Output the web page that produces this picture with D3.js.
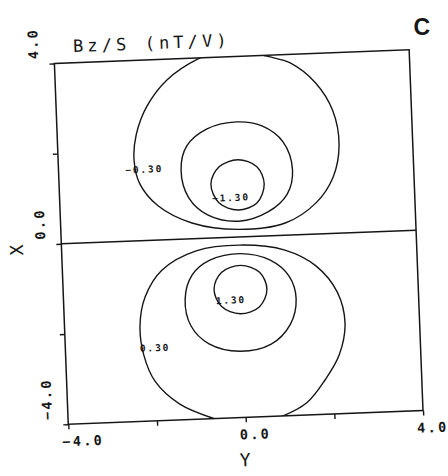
<!DOCTYPE html>
<html>
<head>
<meta charset="utf-8">
<script src="https://cdn.jsdelivr.net/npm/d3@7"></script>
<style>
  html, body { margin: 0; padding: 0; background: #fff; }
  svg { display: block; }
</style>
</head>
<body>
<svg id="chart" width="448" height="476"></svg>
<script>
// Bz/S field map, contours in the (Y, X) plane, values in nT/V
const axisTicks = [-4, -2, 0, 2, 4];
const labelledTicks = [-4, 0, 4];
const tickFormat = d3.format(".1f");

const levels = [-0.3, -0.8, -1.3, 0.3, 0.8, 1.3];
const levelFormat = d3.format(".2f");

// contour vertices as [Y, X]
const contourN030 = [
  [-0.76, 3.98], [-1.48, 3.54], [-1.95, 2.98], [-2.22, 2.35], [-2.29, 1.79],
  [-2.18, 1.26], [-1.79, 0.76], [-1.04, 0.35], [-0.01, 0.17], [1.06, 0.27],
  [1.77, 0.69], [2.18, 1.25], [2.34, 1.95], [2.23, 2.71], [1.87, 3.34],
  [1.31, 3.81], [0.79, 3.98], [0.04, 4.21]
];
const contourN080 = [
  [0.06, 2.55], [0.62, 2.44], [1.08, 2.07], [1.27, 1.44], [1.13, 0.91],
  [0.68, 0.53], [0.02, 0.35], [-0.67, 0.51], [-1.09, 0.91], [-1.24, 1.53],
  [-1.09, 2.06], [-0.62, 2.42]
];
const contourN130 = [
  [0.05, 1.71], [0.47, 1.54], [0.62, 1.15], [0.44, 0.74], [0.01, 0.60],
  [-0.41, 0.77], [-0.58, 1.20], [-0.38, 1.57]
];
const contourP030 = [
  [0.02, -0.18], [1.03, -0.33], [1.72, -0.71], [2.17, -1.30], [2.32, -2.00],
  [2.16, -2.70], [1.82, -3.24], [1.39, -3.73], [0.82, -4.01], [0.02, -4.21],
  [-0.71, -4.00], [-1.47, -3.65], [-2.01, -3.12], [-2.24, -2.53], [-2.30, -1.89],
  [-2.16, -1.25], [-1.76, -0.67], [-0.97, -0.27]
];
const contourP080 = [
  [0.02, -0.37], [0.69, -0.54], [1.10, -0.91], [1.24, -1.42], [1.08, -1.99],
  [0.64, -2.40], [-0.07, -2.53], [-0.76, -2.34], [-1.15, -1.93], [-1.26, -1.33],
  [-1.08, -0.80], [-0.67, -0.49]
];
const contourP130 = [
  [0.02, -0.63], [0.44, -0.80], [0.59, -1.18], [0.41, -1.56], [-0.03, -1.70],
  [-0.45, -1.52], [-0.60, -1.13], [-0.42, -0.77]
];
const contourPoints = [contourN030, contourN080, contourN130, contourP030, contourP080, contourP130];

// where each level's value is written ([Y, X]); null = unlabelled
const labelAt = [[-2.07, 1.58], null, [-0.14, 0.88], [-1.98, -2.38], null, [-0.23, -1.39]];

const titleText = "Bz/S (nT/V)";
const panelLetter = "C";

// ---- layout ----
const svg = d3.select("#chart");
const L = 61.2, T = 56.5, W = 355, H = 361;
const cx = L + W / 2, cy = T + H / 2;
const tilt = -2.2;
const ink = "#161616";
const mono = "'DejaVu Sans Mono', 'Liberation Mono', monospace";

const yScale = d3.scaleLinear().domain([-4, 4]).range([0, W]);
const xScale = d3.scaleLinear().domain([-4, 4]).range([H, 0]);

const g = svg.append("g")
  .attr("transform", `rotate(${tilt},${cx},${cy}) translate(${L},${T})`);

svg.append("defs").append("clipPath").attr("id", "plotClip")
  .append("rect").attr("x", 0).attr("y", 0).attr("width", W).attr("height", H);

// contours
const contourLine = d3.line()
  .x(d => yScale(d[0]))
  .y(d => xScale(d[1]))
  .curve(d3.curveCatmullRomClosed.alpha(0.5));

g.append("g").attr("clip-path", "url(#plotClip)")
  .selectAll("path")
  .data(levels.map((lv, i) => ({ level: lv, points: contourPoints[i] })))
  .join("path")
  .attr("d", d => contourLine(d.points))
  .attr("fill", "none")
  .attr("stroke", ink)
  .attr("stroke-width", 1.4);

// frame and the X = 0 line
g.append("rect")
  .attr("x", 0).attr("y", 0).attr("width", W).attr("height", H)
  .attr("fill", "none").attr("stroke", ink).attr("stroke-width", 1.5);

g.append("line")
  .attr("x1", yScale(-4)).attr("x2", yScale(4))
  .attr("y1", xScale(0)).attr("y2", xScale(0))
  .attr("stroke", ink).attr("stroke-width", 1.5);

// tick marks
const bottomAxis = g.append("g").attr("transform", `translate(0,${H})`)
  .call(d3.axisBottom(yScale).tickValues(axisTicks).tickSize(5).tickFormat(""));
const leftAxis = g.append("g")
  .call(d3.axisLeft(xScale).tickValues(axisTicks).tickSize(5).tickFormat(""));
[bottomAxis, leftAxis].forEach(a => {
  a.select(".domain").remove();
  a.selectAll(".tick line").attr("stroke", ink).attr("stroke-width", 1.4);
});

// tick labels
g.append("g").selectAll("text")
  .data(labelledTicks)
  .join("text")
  .attr("transform", d => `translate(-21,${xScale(d) - 5}) rotate(-90)`)
  .attr("text-anchor", "start")
  .attr("dominant-baseline", "central")
  .attr("font-family", mono).attr("font-weight", "bold")
  .attr("font-size", 13.5).attr("letter-spacing", 2.3)
  .attr("fill", ink)
  .text(d => tickFormat(d));

g.append("g").selectAll("text")
  .data(labelledTicks)
  .join("text")
  .attr("x", d => yScale(d) - 6.5)
  .attr("y", H + 17)
  .attr("text-anchor", "start")
  .attr("dominant-baseline", "central")
  .attr("font-family", mono).attr("font-weight", "bold")
  .attr("font-size", 13.5).attr("letter-spacing", 2.3)
  .attr("fill", ink)
  .text(d => tickFormat(d));

// axis titles
g.append("text")
  .attr("transform", `translate(-45,${H / 2 + 4.5}) rotate(-90)`)
  .attr("text-anchor", "middle").attr("dominant-baseline", "central")
  .attr("font-family", mono).attr("font-size", 18).attr("fill", ink)
  .text("X");

g.append("text")
  .attr("x", W / 2 - 2).attr("y", H + 42.5)
  .attr("text-anchor", "middle").attr("dominant-baseline", "central")
  .attr("font-family", mono).attr("font-size", 18).attr("fill", ink)
  .text("Y");

// title
g.append("text")
  .attr("x", 19.3).attr("y", -10.7)
  .attr("font-family", mono).attr("font-size", 17)
  .attr("letter-spacing", 4.1).attr("fill", ink)
  .text(titleText);

// contour value labels
g.append("g").selectAll("text")
  .data(levels.map((lv, i) => ({ level: lv, at: labelAt[i] })).filter(d => d.at))
  .join("text")
  .attr("x", d => yScale(d.at[0]))
  .attr("y", d => xScale(d.at[1]))
  .attr("text-anchor", "middle").attr("dominant-baseline", "central")
  .attr("font-family", mono).attr("font-weight", "bold")
  .attr("font-size", 9.5).attr("letter-spacing", 1.85)
  .attr("fill", ink)
  .text(d => levelFormat(d.level));

// panel letter
svg.append("text")
  .attr("x", 421.7).attr("y", 35)
  .attr("text-anchor", "middle")
  .attr("font-family", "'Liberation Sans', Arial, sans-serif")
  .attr("font-weight", "bold").attr("font-size", 23)
  .attr("fill", ink)
  .text(panelLetter);
</script>
</body>
</html>
